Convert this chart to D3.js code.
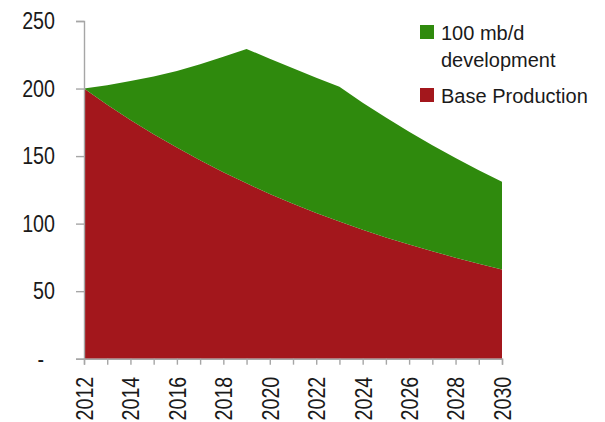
<!DOCTYPE html>
<html>
<head>
<meta charset="utf-8">
<script src="https://cdn.jsdelivr.net/npm/d3@7"></script>
<style>
  body { margin: 0; background: #fff; }
  .axis text { font-family: "Liberation Sans", Arial, sans-serif; font-size: 24px; fill: #1a1a1a; }
  .legend text { font-family: "Liberation Sans", Arial, sans-serif; font-size: 20px; fill: #1a1a1a; }
</style>
</head>
<body>
<svg></svg>
<script>
var width = 605;
var height = 422;
// axis labels in the original are a narrow face; squeeze the regular one
var squeeze = 0.82;

var years = [2012, 2013, 2014, 2015, 2016, 2017, 2018, 2019, 2020, 2021,
             2022, 2023, 2024, 2025, 2026, 2027, 2028, 2029, 2030];
var baseProduction = [200, 188, 176.8, 166.2, 156.3, 146.9, 138.1, 129.8, 122, 114.7,
                      107.8, 101.5, 95.5, 89.8, 84.5, 79.5, 74.8, 70.3, 66];
var totalSupply = [200, 202.5, 205.5, 209, 213, 218, 223.5, 229.3, 222, 215,
                   208, 201.4, 189.5, 178.5, 168, 158, 148.5, 139.5, 131];
var yTicks = [0, 50, 100, 150, 200, 250];
var xLabelYears = [2012, 2014, 2016, 2018, 2020, 2022, 2024, 2026, 2028, 2030];
var seriesNames = ["100 mb/d\ndevelopment", "Base Production"];
var seriesColors = ["#2f8a0d", "#a3171c"];

var rows = years.map((y, i) => ({
  year: y,
  base: baseProduction[i],
  dev: totalSupply[i] - baseProduction[i]
}));

var layers = d3.stack().keys(["base", "dev"])(rows);

// prettier-ignore
var svg = d3.select("svg")
              .attr("width", width)
              .attr("height", height);

var xScale = d3.scaleLinear().domain([2012, 2030]).range([84, 502]);
var yScale = d3.scaleLinear().domain([0, 250]).range([358.7, 21]);

var area = d3.area()
  .x(d => xScale(d.data.year))
  .y0(d => yScale(d[0]))
  .y1(d => yScale(d[1]));

// prettier-ignore
svg.selectAll("path.layer")
   .data(layers)
   .enter()
   .append("path")
     .attr("class", "layer")
     .attr("d", area)
     .attr("fill", (d, i) => i === 0 ? seriesColors[1] : seriesColors[0]);

// y axis
// prettier-ignore
var yAxis = svg.append("g")
   .attr("class", "axis")
   .attr("transform", "translate(84,0)")
   .call(d3.axisLeft(yScale)
           .tickValues(yTicks)
           .tickSize(8)
           .tickFormat(d => d === 0 ? "-" : d));

// prettier-ignore
yAxis.selectAll("text")
   .attr("x", 0)
   .attr("transform", d => "translate(" + (d === 0 ? -40 : -29) + ",0) scale(" + squeeze + ",1)");

// x axis
// prettier-ignore
var xAxis = svg.append("g")
   .attr("class", "axis")
   .attr("transform", "translate(0," + yScale(0) + ")")
   .call(d3.axisBottom(xScale)
           .tickValues(years)
           .tickSize(6)
           .tickFormat(d => xLabelYears.indexOf(d) >= 0 ? d : ""));

// prettier-ignore
xAxis.selectAll("text")
   .attr("transform", "translate(0,18) rotate(-90) scale(" + squeeze + ",1)")
   .attr("text-anchor", "end")
   .attr("x", 0)
   .attr("y", 0)
   .attr("dy", "0.35em");

svg.selectAll(".axis path, .axis line")
   .attr("stroke", "#a6a6a6")
   .attr("stroke-width", 1.4);

// legend
var legend = svg.append("g").attr("class", "legend");
var legendY = [25, 88];

// prettier-ignore
legend.selectAll("rect")
   .data(seriesNames)
   .enter()
   .append("rect")
     .attr("x", 420)
     .attr("y", (d, i) => legendY[i])
     .attr("width", 14)
     .attr("height", 14)
     .attr("fill", (d, i) => seriesColors[i]);

// prettier-ignore
legend.selectAll("text")
   .data(seriesNames)
   .enter()
   .append("text")
     .attr("x", 441)
     .attr("y", (d, i) => legendY[i] + 14.5)
   .selectAll("tspan")
   .data(d => d.split("\n"))
   .enter()
   .append("tspan")
     .attr("x", 441)
     .attr("dy", (d, i) => i === 0 ? 0 : 27.5)
     .text(d => d);
</script>
</body>
</html>
